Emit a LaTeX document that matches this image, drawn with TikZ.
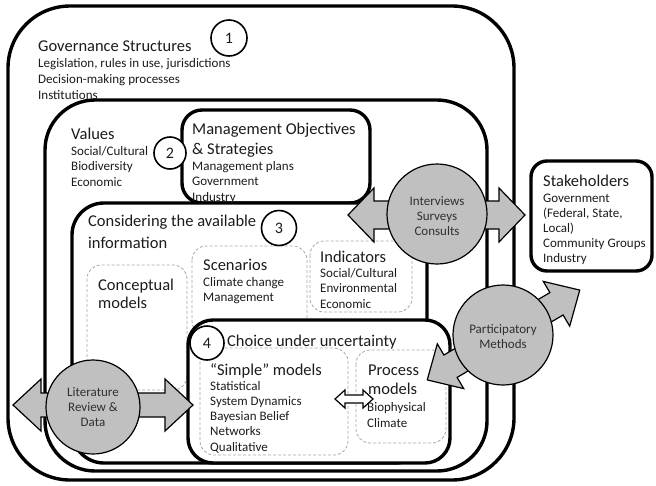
\documentclass[tikz,border=0pt]{standalone}
\usepackage{fontspec}
\setmainfont{Carlito}
\definecolor{agray}{HTML}{C0C0C0}
\definecolor{txt}{HTML}{1C1C1C}
\definecolor{txtb}{HTML}{303030}
\definecolor{dgray}{HTML}{A8A8A8}
\newcommand\blockdarrow[7]{% x, y, angle, length, shaft half, head half, head length
  \begin{scope}[shift={(#1,#2)},rotate=#3]
    \draw[arrowshape] (-#4/2,0) -- (-#4/2+#7,#6) -- (-#4/2+#7,#5) -- (#4/2-#7,#5) -- (#4/2-#7,#6) -- (#4/2,0)
      -- (#4/2-#7,-#6) -- (#4/2-#7,-#5) -- (-#4/2+#7,-#5) -- (-#4/2+#7,-#6) -- cycle;
  \end{scope}}
\begin{document}
\begin{tikzpicture}[x=1pt,y=-1pt,
  bigbox/.style={draw=black,line width=3.4pt,fill=white},
  dbox/.style={draw=dgray,line width=0.8pt,rounded corners=14pt,dash pattern=on 3pt off 2pt},
  numc/.style={circle,draw=black,line width=1.6pt,fill=white,inner sep=0pt,text=txt,font=\fontsize{16}{16}\selectfont},
  gcirc/.style={circle,draw=black,line width=1.2pt,fill=agray,inner sep=0pt},
  arrowshape/.style={draw=black,line width=1.2pt,fill=agray,line join=miter},
  ttl/.style={anchor=base west,inner sep=0pt,font=\fontsize{16.5}{19}\selectfont,align=left,text=txt},
  dtl/.style={anchor=base west,inner sep=0pt,font=\fontsize{13}{15.5}\selectfont,align=left,text=txt},
  ctl/.style={inner sep=0pt,font=\fontsize{13}{15}\selectfont,align=center,text=txtb}]
\useasboundingbox (0,0) rectangle (656,485);
% nested boxes
\draw[bigbox,rounded corners=62pt] (8,6) rectangle (514,480);
\draw[bigbox,rounded corners=50pt] (45,100) rectangle (487,471);
\draw[bigbox,rounded corners=20pt] (182,110) rectangle (370,203);
\draw[bigbox,rounded corners=32pt] (72,203) rectangle (427,463);
% dashed boxes in box 3
\draw[dbox] (87,265) rectangle (187,390);
\draw[dbox] (192,246) rectangle (307,335);
\draw[dbox] (310,241) rectangle (412,312);
% box 4
\draw[bigbox,rounded corners=25pt] (188,320) rectangle (450,463);
\draw[dbox] (200,348) rectangle (348,455);
\draw[dbox] (356,350) rectangle (446,443);
% small white double arrow
\begin{scope}[arrowshape/.append style={fill=white}]
\blockdarrow{354}{399}{0}{38}{4}{9}{10}
\end{scope}
% stakeholders
\draw[bigbox,rounded corners=16pt] (531,161) rectangle (652,271);
% big arrows
\blockdarrow{436.5}{215}{0}{177}{14}{27}{26}
\blockdarrow{103}{405}{0}{180}{12}{26}{28}
\blockdarrow{503.5}{335}{30.5}{177}{13}{26}{27}
% grey circles
\node[gcirc,minimum size=100pt] (iv) at (437,214) {};
\node[gcirc,minimum size=100pt] (pm) at (503,335) {};
\node[gcirc,minimum size=94pt] (lr) at (93,407) {};
\node[ctl] (ivt) at (437,216) {Interviews\\Surveys\\Consults};
\node[ctl] (pmt) at (503,337) {Participatory\\Methods};
\node[ctl] (lrt) at (93,407) {Literature\\Review \&\\Data};
% number circles
\node[numc,minimum size=36pt] (n1) at (229,38) {1};
\node[numc,minimum size=32pt] (n2) at (170,153) {2};
\node[numc,minimum size=35pt] (n3) at (279,228) {3};
\node[numc,minimum size=34pt] (n4) at (207,343) {4};
% texts (base = baseline of the last line)
\node[ttl] (t1) at (38,51) {Governance Structures};
\node[dtl,font=\fontsize{13}{16}\selectfont] (d1) at (38,99) {Legislation, rules in use, jurisdictions\\Decision-making processes\\Institutions};
\node[ttl] (t2) at (71,139) {Values};
\node[dtl] (d2) at (71,186) {Social/Cultural\\Biodiversity\\Economic};
\node[ttl,font=\fontsize{16.5}{20}\selectfont] (tm) at (192,154) {Management Objectives\\\& Strategies};
\node[dtl] (dm) at (192,201) {Management plans\\Government\\Industry};
\node[ttl,font=\fontsize{16.5}{22}\selectfont] (t3) at (88,248) {Considering the available\\information};
\node[ttl,font=\fontsize{16.5}{18}\selectfont] (tc) at (98,308) {Conceptual\\models};
\node[ttl] (ts) at (203,270) {Scenarios};
\node[dtl,font=\fontsize{13}{15}\selectfont] (ds) at (203,301) {Climate change\\Management};
\node[ttl] (ti) at (320,262) {Indicators};
\node[dtl] (di) at (320,308) {Social/Cultural\\Environmental\\Economic};
\node[ttl] (t4) at (227,346) {Choice under uncertainty};
\node[ttl] (tsm) at (210,375) {“Simple” models};
\node[dtl,font=\fontsize{13}{15.25}\selectfont] (dsm) at (210,451) {Statistical\\System Dynamics\\Bayesian Belief\\Networks\\Qualitative};
\node[ttl] (tp) at (368,394) {Process\\models};
\node[dtl,font=\fontsize{13}{16}\selectfont] (dp) at (367,427) {Biophysical\\Climate};
\node[ttl] (tst) at (543,186) {Stakeholders};
\node[dtl,font=\fontsize{13}{15}\selectfont] (dst) at (543,262) {Government\\(Federal, State,\\Local)\\Community Groups\\Industry};
\end{tikzpicture}
\end{document}
